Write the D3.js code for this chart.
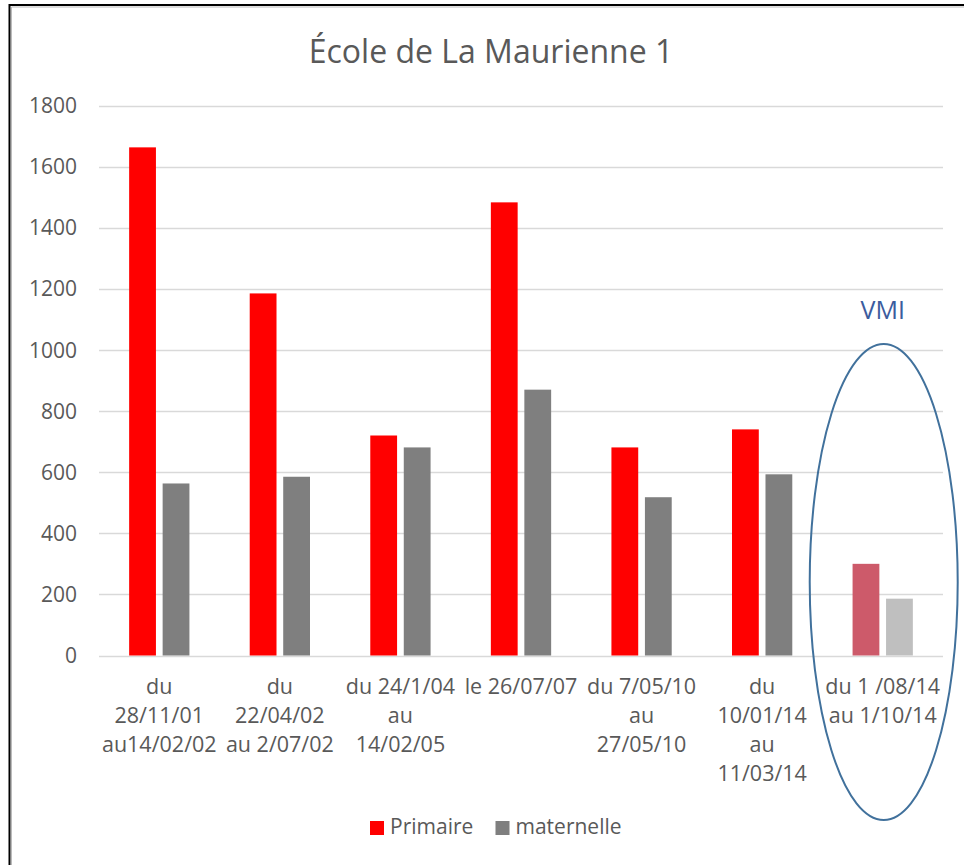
<!DOCTYPE html>
<html>
<head>
    <meta charset="UTF-8">
    <title>École de La Maurienne 1</title>
    <script src="https://d3js.org/d3.v7.min.js"></script>
    <style>
        body { margin: 0; background: #fff; }
        svg text { font-family: "Open Sans", "Noto Sans", sans-serif; fill: #595959; }
    </style>
</head>
<body>
<div id="chart"></div>
<script>
    // data
    var categories = ["c1", "c2", "c3", "c4", "c5", "c6", "c7"];
    var catLabels = [
        ["du", "28/11/01", "au14/02/02"],
        ["du", "22/04/02", "au 2/07/02"],
        ["du 24/1/04", "au", "14/02/05"],
        ["le 26/07/07"],
        ["du 7/05/10", "au", "27/05/10"],
        ["du", "10/01/14", "au", "11/03/14"],
        ["du 1 /08/14", "au 1/10/14"]
    ];
    var series = ["Primaire", "maternelle"];
    var primaire = [1663, 1185, 720, 1483, 681, 740, 300];
    var maternelle = [563, 585, 681, 870, 518, 593, 186];
    var yTicks = [0, 200, 400, 600, 800, 1000, 1200, 1400, 1600, 1800];

    var seriesColor = ["#FF0000", "#7F7F7F"];
    var vmiColor = ["#CD5A6A", "#BFBFBF"];   // last group is faded
    var vmiIndex = 6;

    var width = 964, height = 865;
    var plotLeft = 99, plotRight = 943, plotTop = 105.5, plotBottom = 655.5;

    var svg = d3.select("#chart").append("svg")
        .attr("width", width)
        .attr("height", height);

    // frame (only left and top edges are in view)
    svg.append("path")
        .attr("d", "M9.5,865 V5 H964")
        .attr("fill", "none")
        .attr("stroke", "#000")
        .attr("stroke-width", 2);
    svg.append("path")
        .attr("d", "M11.5,865 V7 H964")
        .attr("fill", "none")
        .attr("stroke", "#bbb")
        .attr("stroke-width", 1);

    var x0 = d3.scaleBand()
        .domain(categories)
        .range([plotLeft, plotRight])
        .paddingInner(0.5)
        .paddingOuter(0.25);

    var x1 = d3.scaleBand()
        .domain(series)
        .range([0, x0.bandwidth()])
        .paddingInner(0.2);

    var y = d3.scaleLinear()
        .domain([0, 1800])
        .range([plotBottom, plotTop]);

    // gridlines
    svg.append("g")
        .selectAll("line")
        .data(yTicks)
        .enter()
        .append("line")
        .attr("x1", plotLeft)
        .attr("x2", plotRight)
        .attr("y1", function (d) { return Math.round(y(d)) + 0.5; })
        .attr("y2", function (d) { return Math.round(y(d)) + 0.5; })
        .attr("stroke", "#D9D9D9")
        .attr("stroke-width", 1.5);

    // y axis labels
    svg.append("g")
        .selectAll("text")
        .data(yTicks)
        .enter()
        .append("text")
        .attr("x", 77)
        .attr("y", function (d) { return y(d); })
        .attr("dy", "0.36em")
        .attr("text-anchor", "end")
        .style("font-size", "21px")
        .text(function (d) { return d; });

    // bars
    var rows = categories.map(function (c, i) {
        return { cat: c, i: i, values: [primaire[i], maternelle[i]] };
    });

    var groups = svg.append("g")
        .selectAll("g")
        .data(rows)
        .enter()
        .append("g")
        .attr("transform", function (d) { return "translate(" + x0(d.cat) + ",0)"; });

    groups.selectAll("rect")
        .data(function (d) {
            return series.map(function (s, k) { return { s: s, k: k, v: d.values[k], i: d.i }; });
        })
        .enter()
        .append("rect")
        .attr("x", function (d) { return x1(d.s); })
        .attr("y", function (d) { return y(d.v); })
        .attr("width", x1.bandwidth())
        .attr("height", function (d) { return y(0) - y(d.v); })
        .attr("fill", function (d) { return d.i === vmiIndex ? vmiColor[d.k] : seriesColor[d.k]; });

    // category labels
    var labels = svg.append("g")
        .selectAll("text")
        .data(rows)
        .enter()
        .append("text")
        .attr("text-anchor", "middle")
        .style("font-size", "21.5px");

    labels.selectAll("tspan")
        .data(function (d) { return catLabels[d.i].map(function (t) { return { t: t, cat: d.cat }; }); })
        .enter()
        .append("tspan")
        .attr("x", function (d) { return x0(d.cat) + x0.bandwidth() / 2; })
        .attr("y", function (d, j) { return 694 + j * 29; })
        .text(function (d) { return d.t; });

    // title
    svg.append("text")
        .attr("x", 491)
        .attr("y", 63)
        .attr("text-anchor", "middle")
        .style("font-size", "32px")
        .text("École de La Maurienne 1");

    // VMI annotation
    var vmiX = x0(categories[vmiIndex]) + x0.bandwidth() / 2;
    svg.append("ellipse")
        .attr("cx", vmiX + 1)
        .attr("cy", 582)
        .attr("rx", 74)
        .attr("ry", 238)
        .attr("fill", "none")
        .attr("stroke", "#41719C")
        .attr("stroke-width", 2);

    svg.append("text")
        .attr("x", vmiX)
        .attr("y", 319)
        .attr("text-anchor", "middle")
        .style("font-size", "25px")
        .style("fill", "#3B5C9E")
        .text("VMI");

    // legend
    var legend = svg.append("g")
        .selectAll("g")
        .data(series)
        .enter()
        .append("g")
        .attr("transform", function (d, k) { return "translate(" + [370, 495.5][k] + ",821)"; });

    legend.append("rect")
        .attr("width", 14)
        .attr("height", 14)
        .attr("fill", function (d, k) { return seriesColor[k]; });

    legend.append("text")
        .attr("x", 20)
        .attr("y", 13)
        .style("font-size", "21px")
        .text(function (d) { return d; });
</script>
</body>
</html>
